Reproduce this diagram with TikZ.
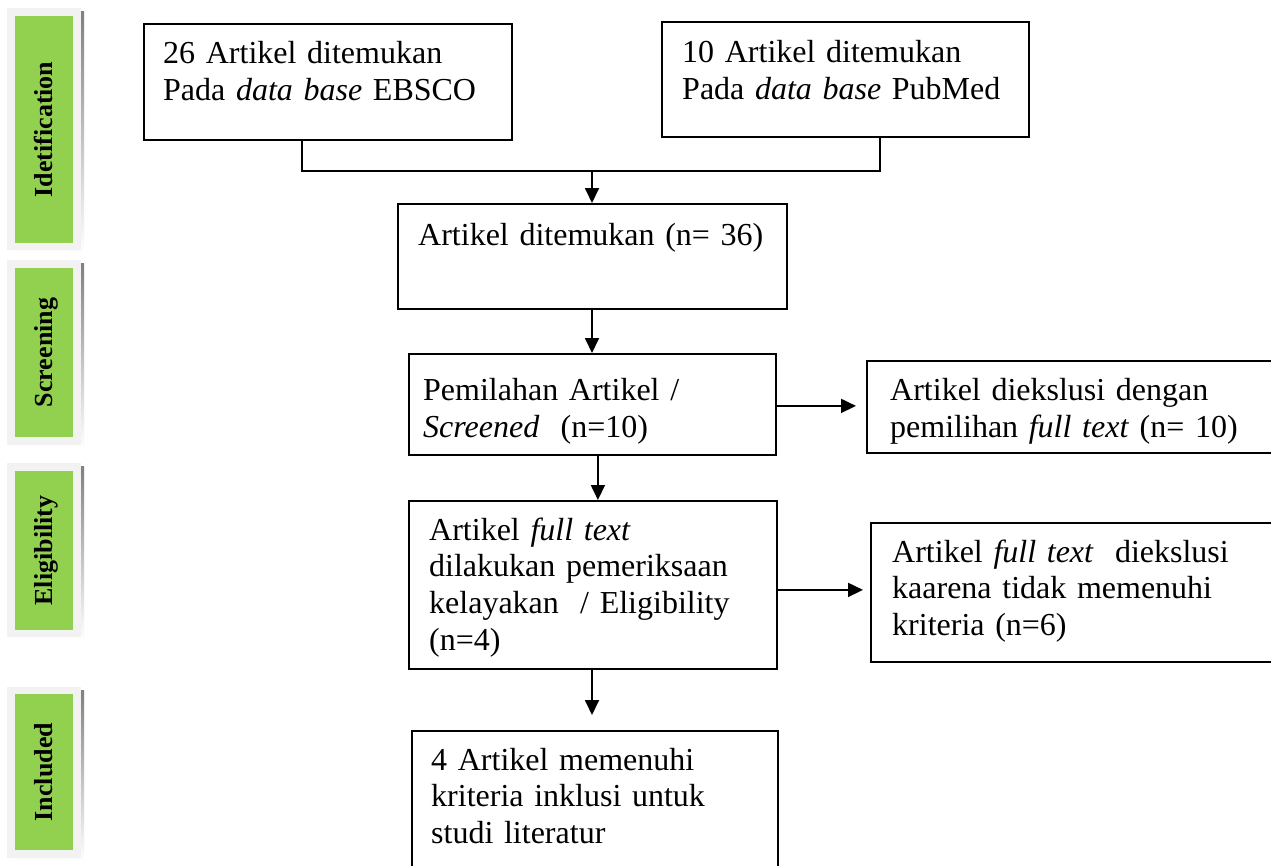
\documentclass[tikz,border=0pt]{standalone}
\usepackage{fontspec}
\setmainfont{Liberation Serif}
\usetikzlibrary{arrows.meta,calc}
\definecolor{panel}{HTML}{F2F2F2}
\definecolor{shade}{HTML}{A6A6A6}
\definecolor{leaf}{HTML}{92D050}
\begin{document}
\begin{tikzpicture}[x=1pt,y=-1pt,
 box/.style={draw,line width=1.8pt,inner sep=0pt,anchor=north west},
 txt/.style={anchor=base west,inner sep=0pt,text width=380pt,align=left,font=\fontsize{32}{37}\selectfont},
 arr/.style={line width=1.8pt,-{Triangle[length=15pt,width=14pt]}},
 link/.style={line width=1.8pt},
 tag/.style={rotate=90,anchor=base,font=\fontsize{26}{30}\selectfont\bfseries,inner sep=0pt},
]
\useasboundingbox (0,0) rectangle (1271,865);
\fill[white] (0,0) rectangle (1271,865);

% side panels
\fill[shade] (10,11) rectangle (84,253);
\fill[panel] (7,8) rectangle (81,250);
\fill[leaf] (15,16) rectangle (73,243);
\node[tag] (s1) at (52,129.5) {Idetification};

\fill[shade] (10,263) rectangle (84,448);
\fill[panel] (7,260) rectangle (81,445);
\fill[leaf] (15,268) rectangle (73,437);
\node[tag] (s2) at (52,352.5) {Screening};

\fill[shade] (10,466) rectangle (84,640);
\fill[panel] (7,463) rectangle (81,637);
\fill[leaf] (15,471) rectangle (73,630);
\node[tag] (s3) at (52,550.5) {Eligibility};

\fill[shade] (10,690) rectangle (84,861);
\fill[panel] (7,687) rectangle (81,858);
\fill[leaf] (15,694) rectangle (73,850);
\node[tag] (s4) at (52,772) {Included};

% boxes
\node[box,minimum width=368pt,minimum height=116pt] (b1) at (143,23) {};
\node[box,minimum width=367pt,minimum height=115pt] (b2) at (661,21) {};
\node[box,minimum width=389pt,minimum height=105pt] (b3) at (397,203) {};
\node[box,minimum width=367pt,minimum height=101pt] (b4) at (408,353) {};
\node[box,minimum width=415pt,minimum height=92pt] (b5) at (866,360) {};
\node[box,minimum width=368pt,minimum height=168pt] (b6) at (408,500) {};
\node[box,minimum width=410pt,minimum height=139pt] (b7) at (870,522) {};
\node[box,minimum width=366pt,minimum height=145pt] (b8) at (411,730) {};

% texts
\node[txt] (t1) at (163,63) {26 Artikel ditemukan\\Pada \textit{data base} EBSCO};
\node[txt] (t2) at (682,62) {10 Artikel ditemukan\\Pada \textit{data base} PubMed};
\node[txt] (t3) at (418,245) {Artikel ditemukan (n= 36)};
\node[txt] (t4) at (423,400) {Pemilahan Artikel /\\\textit{Screened}\ \ (n=10)};
\node[txt] (t5) at (890,400) {Artikel diekslusi dengan\\pemilihan \textit{full text} (n= 10)};
\node[txt,font=\fontsize{32}{36.7}\selectfont] (t6) at (429,540) {Artikel \textit{full text}\\dilakukan pemeriksaan\\kelayakan\ \ / Eligibility\\(n=4)};
\node[txt,font=\fontsize{32}{36.5}\selectfont] (t7) at (892,562) {Artikel \textit{full text}\ \ diekslusi\\kaarena tidak memenuhi\\kriteria (n=6)};
\node[txt,font=\fontsize{32}{36.5}\selectfont] (t8) at (431,770) {4 Artikel memenuhi\\kriteria inklusi untuk\\studi literatur};

% connectors
\coordinate (j1) at (302,171);
\coordinate (j2) at (880,171);
\coordinate (jm) at (592,171);
\draw[link] (j1 |- b1.south) -- (j1) -- (j2) -- (j2 |- b2.south);
\draw[arr] (jm) -- (jm |- b3.north);
\draw[arr] (b3.south -| jm) -- (b4.north -| jm);
\draw[arr,shorten >=10pt] ($(b4.east)+(0,1.5)$) -- ($(b4.east -| b5.west)+(0,1.5)$);
\draw[arr] ($(b4.south)+(5.5,0)$) -- ($(b4.south |- b6.north)+(5.5,0)$);
\draw[arr,shorten >=7pt] ($(b6.east)+(0,5)$) -- ($(b6.east -| b7.west)+(0,5)$);
\draw[arr,shorten >=15pt] (b6.south -| jm) -- (b8.north -| jm);
\end{tikzpicture}
\end{document}
